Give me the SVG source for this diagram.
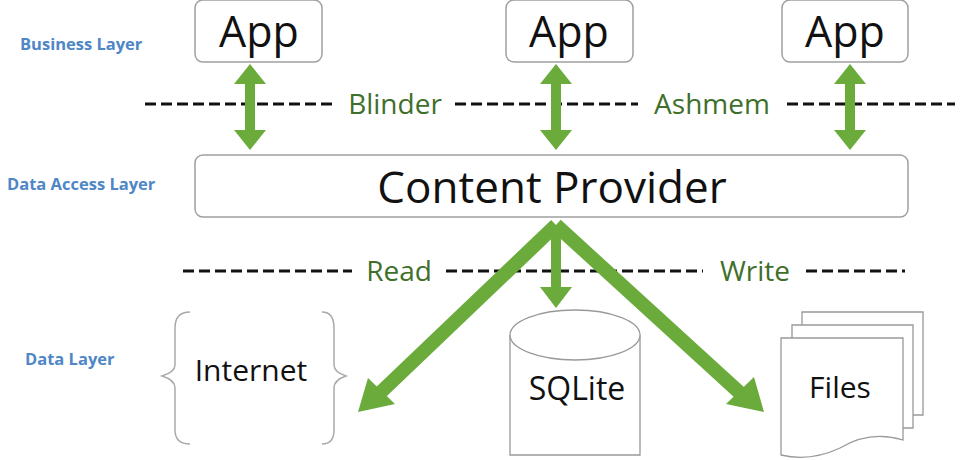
<svg xmlns="http://www.w3.org/2000/svg" width="960" height="460" viewBox="0 0 960 460">
<style>
.box{fill:#fff;stroke:#a0a0a0;stroke-width:1.5}
.big{font-family:"Open Sans","Liberation Sans",sans-serif;fill:#111;text-anchor:middle}
.lay{font-family:"Open Sans","Liberation Sans",sans-serif;font-weight:bold;font-size:16.5px;fill:#4f86c6}
.dash{stroke:#111;stroke-width:3;stroke-dasharray:11 5;fill:none}
.lbl{font-family:"Open Sans","Liberation Sans",sans-serif;font-size:28px;fill:#3f6f2a;text-anchor:middle}
.gr{stroke:#6aab3c;fill:none}
.gf{fill:#6aab3c}
.ln{fill:#fff;stroke:#999;stroke-width:1.3}
</style>
<rect width="960" height="460" fill="#fff"/>
<g id="labels">
<text class="lay" x="20" y="50">Business Layer</text>
<text class="lay" x="7" y="190">Data Access Layer</text>
<text class="lay" x="25" y="365">Data Layer</text>
</g>
<g id="app1"><rect class="box" x="195" y="0" width="127" height="62" rx="8"/><text class="big" x="259" y="47" font-size="43">App</text></g>
<g id="app2"><rect class="box" x="506" y="0" width="127" height="62" rx="8"/><text class="big" x="569" y="47" font-size="43">App</text></g>
<g id="app3"><rect class="box" x="782" y="0" width="126" height="62" rx="8"/><text class="big" x="845" y="47" font-size="43">App</text></g>
<g id="content-provider"><rect class="box" x="195" y="155" width="713" height="62" rx="8"/><text class="big" x="552" y="203" font-size="44">Content Provider</text></g>
<g id="dividers">
<line class="dash" x1="145" y1="104" x2="335" y2="104"/>
<line class="dash" x1="455" y1="104" x2="638" y2="104"/>
<line class="dash" x1="787" y1="104" x2="955" y2="104"/>
<text class="lbl" x="395" y="114">Blinder</text>
<text class="lbl" x="712" y="114">Ashmem</text>
<line class="dash" x1="183" y1="271" x2="352" y2="271"/>
<line class="dash" x1="446" y1="271" x2="703" y2="271"/>
<line class="dash" x1="806" y1="271" x2="905" y2="271"/>
<text class="lbl" x="399" y="281">Read</text>
<text class="lbl" x="755" y="281">Write</text>
</g>
<g id="connectors">
<g id="dbl1"><line class="gr" stroke-width="10" x1="250" y1="82" x2="250" y2="132"/><polygon class="gf" points="250,64 234,84 266,84"/><polygon class="gf" points="250,150 234,130 266,130"/></g>
<g id="dbl2"><line class="gr" stroke-width="10" x1="556" y1="82" x2="556" y2="132"/><polygon class="gf" points="556,64 540,84 572,84"/><polygon class="gf" points="556,150 540,130 572,130"/></g>
<g id="dbl3"><line class="gr" stroke-width="10" x1="850" y1="82" x2="850" y2="132"/><polygon class="gf" points="850,64 834,84 866,84"/><polygon class="gf" points="850,150 834,130 866,130"/></g>
<line class="gr" stroke-width="10" x1="556" y1="225" x2="556" y2="290"/>
<polygon class="gf" points="556,308 540,287 572,287"/>
<line class="gr" stroke-width="14" x1="556" y1="225" x2="380" y2="393"/>
<polygon class="gf" points="358,412 368,378 395,404"/>
<line class="gr" stroke-width="14" x1="556" y1="225" x2="740" y2="393"/>
<polygon class="gf" points="764,412 726,404 754,377"/>
</g>
<g id="internet">
<path d="M190,312 Q175,312 175,328 L175,365 Q175,372 162,376 Q175,380 175,388 L175,430 Q175,444 190,444" fill="none" stroke="#aaa" stroke-width="1.5"/>
<path d="M322,312 Q334,312 334,328 L334,365 Q334,372 346,376 Q334,380 334,388 L334,430 Q334,444 322,444" fill="none" stroke="#aaa" stroke-width="1.5"/>
<text class="big" x="251" y="381" font-size="30">Internet</text>
</g>
<g id="sqlite">
<path class="ln" d="M510,335 L510,455 L640,455 L640,335"/>
<ellipse class="ln" cx="575" cy="335" rx="65" ry="25"/>
<text class="big" x="577" y="400" font-size="32">SQLite</text>
</g>
<g id="files">
<path class="ln" d="M802,312 L923,312 L923,415 L802,415 Z"/>
<path class="ln" d="M792,325 L913,325 L913,428 L792,428 Z"/>
<path class="ln" d="M781,338 L903,338 L903,440 Q870,430 840,448 Q810,462 781,455 Z"/>
<text class="big" x="840" y="398" font-size="30">Files</text>
</g>
</svg>
